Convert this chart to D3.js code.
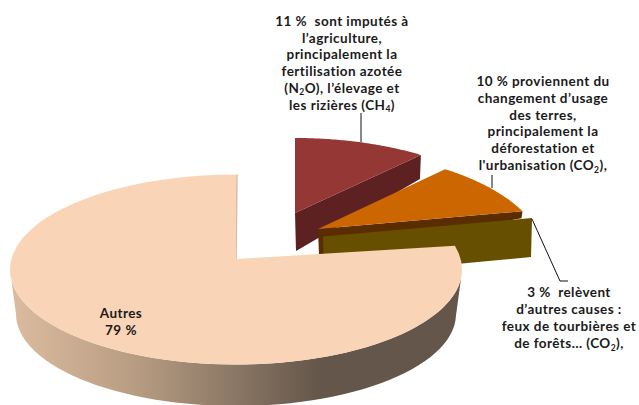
<!DOCTYPE html>
<html><head><meta charset="utf-8">
<script src="https://cdnjs.cloudflare.com/ajax/libs/d3/7.8.5/d3.min.js"></script>
<style>html,body{margin:0;padding:0;background:#fff}svg{display:block}text{white-space:pre}</style>
</head><body><svg id="c" width="639" height="405"></svg>
<script>
// Data
const sliceNames = ["Autres", "Agriculture", "Changement d'usage des terres", "Autres causes"];
const sliceShares = [79, 9.5, 8.5, 3]; // drawn angular shares
const labelAutres = ["Autres", "79 %"];
const labelAgri = ["11 %  sont imputés à", "l’agriculture,", "principalement la", "fertilisation azotée", "(N_2_O), l’élevage et", "les rizières (CH_4_)"];
const labelTerres = ["10 % proviennent du", "changement d’usage", "des terres,", "principalement la", "déforestation et", "l'urbanisation (CO_2_),"];
const labelCauses = ["3 %  relèvent", "d’autres causes :", "feux de tourbières et", "de forêts… (CO_2_),"];

const svg = d3.select("#c");
const total = d3.sum(sliceShares);
const pie = d3.pie().sort(null).startAngle(-2*Math.PI*sliceShares[0]/total).endAngle(2*Math.PI*(1-sliceShares[0]/total));
const arcs = pie(sliceShares);

const line = d3.line();
const rim = (g,t)=>[g.cx+g.rx*Math.sin(t), g.cy-g.ry*Math.cos(t)];
const sample = (g,a,b)=>d3.range(0,61).map(i=>rim(g,a+(b-a)*i/60));
const apex = g=>[g.cx,g.cy+g.apex];
const wedge = (g,a,b)=>line([apex(g),...sample(g,a,b)])+"Z";

// Slice frames (exploded offsets and 3D tilt)
const gAutres = {cx:236,cy:269.5,rx:226,ry:95,apex:-10.5};
const gAutresLow = {cx:236,cy:314,rx:220,ry:92,apex:0};
const gAgri = {cx:295,cy:236,rx:224,ry:98,apex:-23};
const gTerres = {cx:318,cy:256,rx:226,ry:105,apex:-27};
const gCauses = {cx:323,cy:258.5,rx:231,ry:95,apex:-22};

const grad = svg.append("defs").append("linearGradient").attr("id","side").attr("gradientUnits","userSpaceOnUse")
  .attr("x1",10).attr("x2",320).attr("y1",0).attr("y2",0);
grad.selectAll("stop").data([[0,"#dcbc9f"],[0.4,"#b89d83"],[0.7,"#8e7a67"],[1,"#64564a"]]).join("stop")
  .attr("offset",d=>d[0]).attr("stop-color",d=>d[1]);

const radialSide = (g,t,depthApex,depthRim)=>{
  const a=apex(g), r=rim(g,t);
  return line([a,r,[r[0]-1,r[1]+depthRim],[a[0]+1,a[1]+depthApex]])+"Z";
};

const [aA,aB,aC,aD]=arcs;
svg.append("path").attr("d",radialSide(gAgri,aB.endAngle,38,24)).attr("fill","#5c2120");
svg.append("path").attr("d",wedge(gAgri,aB.startAngle,aB.endAngle)).attr("fill","#953735");

svg.append("path").attr("d",radialSide(gTerres,aC.endAngle,26,7)).attr("fill","#5a2c00");
svg.append("path").attr("d",radialSide(gCauses,aD.startAngle,40,39)).attr("fill","#665000");
svg.append("path").attr("d",wedge(gTerres,aC.startAngle,aC.endAngle)).attr("fill","#cc6600");

const sideAngles = [Math.PI/2+0.02, 3*Math.PI/2];
const up = sample(gAutres,sideAngles[0],sideAngles[1]);
const low = sample(gAutresLow,sideAngles[1],sideAngles[0]);
svg.append("path").attr("d",line([...up,...low])+"Z").attr("fill","url(#side)");
svg.append("line").attr("x1",apex(gAutres)[0]).attr("y1",apex(gAutres)[1])
  .attr("x2",rim(gAutres,0)[0]+1).attr("y2",rim(gAutres,0)[1]).attr("stroke","#d8bca2").attr("stroke-width",1.5);
svg.append("path").attr("d",wedge(gAutres,aA.startAngle,aA.endAngle)).attr("fill","#fad4b6");

const leaders=[[[361,113],[361,142]],[[492,175],[492,188]],[[532,219],[560,281],[568,281]]];
svg.selectAll("path.leader").data(leaders).join("path").attr("class","leader")
  .attr("d",d=>line(d)).attr("fill","none").attr("stroke","#111").attr("stroke-width",1);

function block(lines,x,y0,step){
  lines.forEach((s,i)=>{
    const t=svg.append("text").attr("x",x).attr("y",y0+i*step).attr("text-anchor","middle")
      .attr("font-family","Lato,'Open Sans',sans-serif").attr("font-size",13.5).attr("letter-spacing",0.45).attr("font-weight",700).attr("fill","#1a1a1a");
    s.split("_").forEach((p,j)=>{
      if(j%2){ t.append("tspan").attr("dy",2.5).attr("font-size",8.5).text(p); }
      else { const ts=t.append("tspan").text(p); if(j>0) ts.attr("dy",-2.5); }
    });
  });
}
block(labelAgri,342,26,16.7);
block(labelTerres,543,86,16.8);
block(labelCauses,569,297,17);
block(labelAutres,121,318,17);
</script></body></html>
